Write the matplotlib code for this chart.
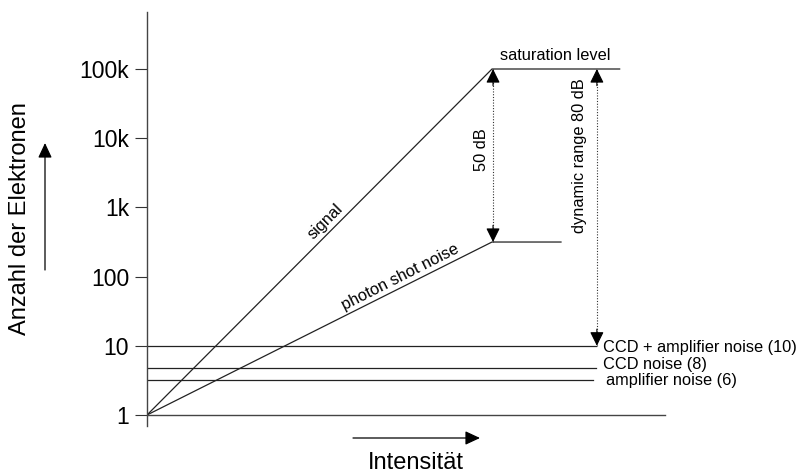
import matplotlib
matplotlib.use('Agg')
import matplotlib.pyplot as plt
from matplotlib.ticker import NullLocator

plt.rcParams['font.family'] = ['Liberation Sans', 'DejaVu Sans']

# values (intensity in arbitrary units, saturation at 10)
signal_x = [0, 10, 13.7]
signal_y = [1, 1e5, 1e5]
shot_x = [0, 10, 12.0]
shot_y = [1, 316, 316]
noise_levels = [10, 4.8, 3.2]
noise_ends = [13.0, 13.0, 12.93]
noise_labels = ["CCD + amplifier noise (10)", "CCD noise (8)", "amplifier noise (6)"]
floor_x = [0, 15]
floor_y = [1, 1]
yticks = [1, 10, 100, 1e3, 1e4, 1e5]
yticklabels = ['1', '10', '100', '1k', '10k', '100k']

W, H = 797, 475
fig = plt.figure(figsize=(W / 100, H / 100), dpi=100)
ax = fig.add_axes([147 / W, (H - 426) / H, 650 / W, 414 / H])

ax.set_yscale('log')
ax.set_xlim(0, 650 / 34.5)
ax.set_ylim(10 ** (-11 / 69.2), 10 ** (403 / 69.2))

lc = '#222222'
ax.plot(signal_x, signal_y, color=lc, lw=0.9)
ax.plot(shot_x, shot_y, color=lc, lw=0.9)
ax.plot(floor_x, floor_y, color='#444444', lw=1.0)
for lev, end in zip(noise_levels, noise_ends):
    ax.plot([0, end], [lev, lev], color=lc, lw=0.9)

# dotted range arrows
def range_arrow(x, lo, hi, both=True):
    ax.plot([x, x], [lo, hi], color='#333333', lw=0.8, ls=(0, (1, 1.5)))
    st = '-|>,head_length=0.85,head_width=0.42'
    ax.annotate('', xy=(x, hi), xytext=(0, -12), textcoords='offset points',
                arrowprops=dict(arrowstyle=st, color='black', lw=0.8,
                                shrinkA=0, shrinkB=0, mutation_scale=10))
    ax.annotate('', xy=(x, lo), xytext=(0, 12), textcoords='offset points',
                arrowprops=dict(arrowstyle=st, color='black', lw=0.8,
                                shrinkA=0, shrinkB=0, mutation_scale=10))

range_arrow(10.03, shot_y[1], signal_y[1])
range_arrow(13.04, noise_levels[0], signal_y[1])

fs = 11.8
ax.text(11.83, 1.59e5, "saturation level", fontsize=fs, ha='center', va='center')
ax.text(9.71, 6760, "50 dB", fontsize=fs, rotation=90, ha='center', va='center')
ax.text(12.55, 5530, "dynamic range 80 dB", fontsize=fs, rotation=90,
        ha='center', va='center')
ax.text(5.16, 615, "signal", fontsize=fs, rotation=45, ha='center', va='center')
ax.text(7.33, 98.7, "photon shot noise", fontsize=fs, rotation=26.8,
        ha='center', va='center')
label_x = [13.22, 13.22, 13.3]
label_y = [9.6, 5.28, 3.2]
for lx, ly, t in zip(label_x, label_y, noise_labels):
    ax.text(lx, ly, t, fontsize=fs, ha='left', va='center')

# axes styling
for s in ['top', 'right', 'bottom']:
    ax.spines[s].set_visible(False)
ax.spines['left'].set_color('#444444')
ax.spines['left'].set_linewidth(1.0)
ax.set_xticks([])
ax.set_yticks(yticks)
ax.set_yticklabels(yticklabels)
ax.yaxis.set_minor_locator(NullLocator())
ax.tick_params(axis='y', direction='out', length=8.6, width=0.8,
               color='#333333', labelsize=16.5, pad=4.3)

ax.set_ylabel("Anzahl der Elektronen", fontsize=17, va='center')
ax.yaxis.set_label_coords(-0.195, 0.5)
ax.set_xlabel("Intensität", fontsize=17, va='center')
ax.xaxis.set_label_coords(0.414, -0.089)

# direction arrows next to the axis labels
ast = '-|>,head_length=0.9,head_width=0.42'
ax.annotate('', xy=(45, H - 143), xycoords='figure pixels',
            xytext=(45, H - 270), textcoords='figure pixels',
            arrowprops=dict(arrowstyle=ast, color='black', lw=0.9,
                            shrinkA=0, shrinkB=0, mutation_scale=10),
            annotation_clip=False)
ax.annotate('', xy=(480, H - 438), xycoords='figure pixels',
            xytext=(353, H - 438), textcoords='figure pixels',
            arrowprops=dict(arrowstyle=ast, color='black', lw=0.9,
                            shrinkA=0, shrinkB=0, mutation_scale=10),
            annotation_clip=False)

fig.savefig('out.png', dpi=100)
